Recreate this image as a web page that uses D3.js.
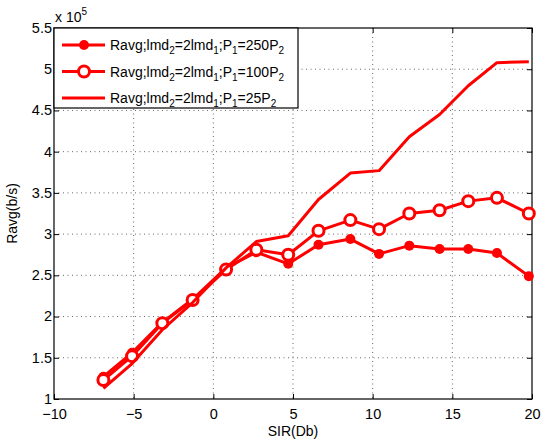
<!DOCTYPE html>
<html>
<head>
<meta charset="utf-8">
<script src="https://cdn.jsdelivr.net/npm/d3@7"></script>
<style>
  body { margin: 0; background: #fff; }
  svg { font-family: "Liberation Sans", Arial, sans-serif; }
</style>
</head>
<body>
<div id="chart"></div>
<script>
// data (y in units of 1e5 b/s)
const sir = [-6.9, -5.1, -3.2, -1.3, 0.8, 2.7, 4.7, 6.6, 8.6, 10.4, 12.3, 14.2, 16.0, 17.8, 19.8];
const ravg250 = [1.27, 1.56, 1.93, 2.21, 2.59, 2.78, 2.64, 2.87, 2.94, 2.76, 2.86, 2.82, 2.82, 2.77, 2.49];
const ravg100 = [1.23, 1.52, 1.92, 2.20, 2.57, 2.81, 2.75, 3.04, 3.17, 3.06, 3.25, 3.29, 3.40, 3.44, 3.25];
const ravg25 = [1.13, 1.43, 1.84, 2.17, 2.59, 2.91, 2.98, 3.42, 3.74, 3.77, 4.18, 4.45, 4.80, 5.08, 5.09];
const seriesNames = ["Ravg;lmd_2=2lmd_1;P_1=250P_2", "Ravg;lmd_2=2lmd_1;P_1=100P_2", "Ravg;lmd_2=2lmd_1;P_1=25P_2"];
const seriesMarkers = ["dot", "circle", "none"];
const xTicks = [-10, -5, 0, 5, 10, 15, 20];
const yTicks = [1, 1.5, 2, 2.5, 3, 3.5, 4, 4.5, 5, 5.5];

const W = 541, H = 441;
const margin = { top: 28, right: 9, bottom: 42, left: 54 };
const width = W - margin.left - margin.right,
    height = H - margin.top - margin.bottom;
const red = "#ff0000";

var svg = d3.select("#chart").append("svg")
    .attr("width", W)
    .attr("height", H);
var g = svg.append("g")
    .attr("transform", "translate(" + margin.left + "," + margin.top + ")");

var x = d3.scaleLinear().domain([-10, 20]).range([0, width]);
var y = d3.scaleLinear().domain([1, 5.5]).range([height, 0]);

// dotted grid
g.append("g").selectAll("line")
    .data(xTicks.slice(1, -1)).enter().append("line")
    .attr("x1", d => x(d)).attr("x2", d => x(d))
    .attr("y1", 0).attr("y2", height)
    .attr("stroke", "#666").attr("stroke-width", 1).attr("stroke-dasharray", "1,3.5");
g.append("g").selectAll("line")
    .data(yTicks.slice(1, -1)).enter().append("line")
    .attr("y1", d => y(d)).attr("y2", d => y(d))
    .attr("x1", 0).attr("x2", width)
    .attr("stroke", "#666").attr("stroke-width", 1).attr("stroke-dasharray", "1,3.5");

// axes with inward ticks
var fmtX = d => d < 0 ? "\u2212" + Math.abs(d) : String(d);
var xAxis = g.append("g").attr("transform", "translate(0," + height + ")")
    .call(d3.axisBottom(x).tickValues(xTicks).tickSizeInner(-5).tickSizeOuter(0).tickPadding(10).tickFormat(fmtX));
var xAxisTop = g.append("g")
    .call(d3.axisTop(x).tickValues(xTicks).tickSizeInner(-5).tickSizeOuter(0).tickFormat(""));
var yAxis = g.append("g")
    .call(d3.axisLeft(y).tickValues(yTicks).tickSizeInner(-5).tickSizeOuter(0).tickPadding(2).tickFormat(d => String(d)));
var yAxisRight = g.append("g").attr("transform", "translate(" + width + ",0)")
    .call(d3.axisRight(y).tickValues(yTicks).tickSizeInner(-5).tickSizeOuter(0).tickFormat(""));

[xAxis, xAxisTop, yAxis, yAxisRight].forEach(a => {
    a.select(".domain").remove();
    a.selectAll("line").attr("stroke", "#000");
    a.selectAll("text").attr("font-size", 14.5).attr("fill", "#000")
        .style("font-family", "'Liberation Sans', Arial, sans-serif");
});
yAxis.selectAll("text").attr("dy", "0.3em");

// frame
g.append("rect")
    .attr("width", width).attr("height", height)
    .attr("fill", "none").attr("stroke", "#000").attr("stroke-width", 1.2);

// exponent label
var expo = svg.append("text")
    .attr("x", margin.left + 1).attr("y", margin.top - 6)
    .attr("font-size", 14);
expo.append("tspan").text("x 10");
expo.append("tspan").attr("dy", -7).attr("font-size", 10).text("5");

// axis titles
svg.append("text")
    .attr("x", margin.left + width / 2).attr("y", H - 5)
    .attr("text-anchor", "middle").attr("font-size", 14)
    .text("SIR(Db)");
svg.append("text")
    .attr("transform", "translate(17," + (margin.top + height / 2) + ") rotate(-90)")
    .attr("text-anchor", "middle").attr("font-size", 14)
    .text("Ravg(b/s)");

// lines
var allSeries = [ravg250, ravg100, ravg25];
var line = d3.line().x(d => x(d[0])).y(d => y(d[1]));
allSeries.forEach((vals, i) => {
    var pts = sir.map((s, j) => [s, vals[j]]);
    g.append("path")
        .datum(pts)
        .attr("d", line)
        .attr("fill", "none")
        .attr("stroke", red)
        .attr("stroke-width", 3)
        .attr("stroke-linejoin", "round");
    drawMarkers(g, pts.map(p => [x(p[0]), y(p[1])]), seriesMarkers[i]);
});

function drawMarkers(sel, pts, type) {
    if (type === "dot") {
        sel.append("g").selectAll("circle").data(pts).enter().append("circle")
            .attr("cx", d => d[0]).attr("cy", d => d[1]).attr("r", 5)
            .attr("fill", red);
    } else if (type === "circle") {
        sel.append("g").selectAll("circle").data(pts).enter().append("circle")
            .attr("cx", d => d[0]).attr("cy", d => d[1]).attr("r", 5.5)
            .attr("fill", "#fff").attr("stroke", red).attr("stroke-width", 3);
    }
}

// legend
var leg = g.append("g");
leg.append("rect")
    .attr("x", 0).attr("y", 0).attr("width", 244).attr("height", 80)
    .attr("fill", "#fff").attr("stroke", "#000").attr("stroke-width", 1.2);
seriesNames.forEach((name, i) => {
    var ly = 17 + i * 26.5;
    leg.append("line")
        .attr("x1", 8).attr("x2", 51).attr("y1", ly).attr("y2", ly)
        .attr("stroke", red).attr("stroke-width", 3);
    drawMarkers(leg, [[30, ly]], seriesMarkers[i]);
    var t = leg.append("text").attr("x", 56).attr("y", ly + 5).attr("font-size", 14);
    // split "_x" into subscripts
    var parts = name.split(/(_\d)/);
    var sub = false;
    parts.forEach(p => {
        if (p === "") return;
        if (p[0] === "_") {
            t.append("tspan").attr("dy", 4).attr("font-size", 10).text(p.slice(1));
            sub = true;
        } else {
            t.append("tspan").attr("dy", sub ? -4 : 0).text(p);
            sub = false;
        }
    });
});
</script>
</body>
</html>
